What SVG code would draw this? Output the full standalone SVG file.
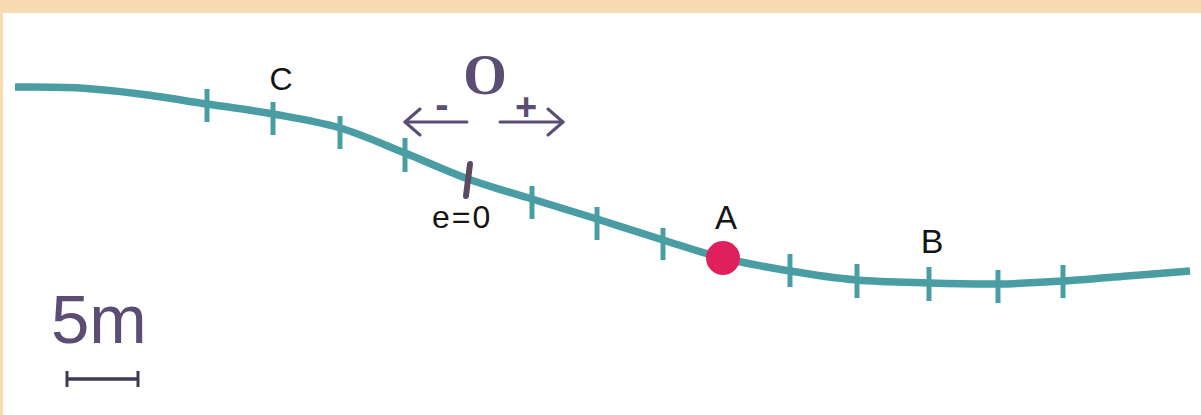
<svg xmlns="http://www.w3.org/2000/svg" width="1201" height="415" viewBox="0 0 1201 415">
<style>
.track{fill:none;stroke:#4a9ea3;stroke-width:7.5;stroke-linecap:butt;stroke-linejoin:round}
.tick{stroke:#4a9ea3;stroke-width:5;stroke-linecap:butt}
.hand{font-family:"Liberation Sans",Arial,sans-serif;fill:#151515}
.purple{fill:#5c4d74}
.arr{stroke:#5c4d74;stroke-width:3;fill:none;stroke-linecap:round}
</style>
<defs>
<marker id="chev" viewBox="0 0 20 30" refX="18" refY="15" markerWidth="20" markerHeight="30" markerUnits="userSpaceOnUse" orient="auto">
<path d="M3,2 L18,15 L3,28" fill="none" stroke="#5c4d74" stroke-width="3" stroke-linecap="round" stroke-linejoin="round"/>
</marker>
</defs>
<rect x="0" y="0" width="1201" height="415" fill="#ffffff"/>
<rect x="0" y="0" width="1201" height="13" fill="#f8dbb0"/>
<rect x="0" y="0" width="3" height="415" fill="#f8dbb0"/>

<g id="track">
<path class="track" d="M15,87 C25.8,87.2 59.2,86.8 80,88 C100.8,89.2 118.8,91.3 140,94 C161.2,96.7 184.8,100.7 207,104 C229.2,107.3 250.8,110 273,114 C295.2,118 318,121.5 340,128 C362,134.5 383.7,144.5 405,153 C426.3,161.5 446.8,171.3 468,179 C489.2,186.7 510.5,192.3 532,199 C553.5,205.7 575.2,212.2 597,219 C618.8,225.8 642,233.5 663,240 C684,246.5 701.8,252.8 723,258 C744.2,263.2 767.7,267.3 790,271 C812.3,274.7 833.8,278 857,280 C880.2,282 905.5,282.3 929,283 C952.5,283.7 975.7,284.3 998,284 C1020.3,283.7 1041.5,282.3 1063,281 C1084.5,279.7 1105.8,277.7 1127,276 C1148.2,274.3 1179.5,271.8 1190,271"/>
<g id="ticks">
<line class="tick" x1="207" y1="89" x2="207" y2="122"/>
<line class="tick" x1="273" y1="102" x2="273" y2="135"/>
<line class="tick" x1="340" y1="116" x2="340" y2="149"/>
<line class="tick" x1="405" y1="138" x2="405" y2="172"/>
<line class="tick" x1="532" y1="186" x2="532" y2="219"/>
<line class="tick" x1="597" y1="207" x2="597" y2="240"/>
<line class="tick" x1="663" y1="228" x2="663" y2="260"/>
<line class="tick" x1="790" y1="254" x2="790" y2="287"/>
<line class="tick" x1="857" y1="264" x2="857" y2="298"/>
<line class="tick" x1="929" y1="267" x2="929" y2="301"/>
<line class="tick" x1="998" y1="270" x2="998" y2="303"/>
<line class="tick" x1="1063" y1="265" x2="1063" y2="298"/>
</g>
</g>

<g id="origin-mark">
<line x1="470" y1="164" x2="466" y2="196" stroke="#5a4a64" stroke-width="6" stroke-linecap="round"/>
<text class="hand" x="432" y="228" font-size="32" letter-spacing="2">e=0</text>
</g>

<g id="point-A">
<circle cx="723" cy="258" r="17" fill="#e0205c"/>
<text class="hand" x="726" y="229" font-size="33" text-anchor="middle">A</text>
</g>

<g id="point-B">
<text class="hand" x="932" y="253" font-size="34" text-anchor="middle">B</text>
</g>

<g id="point-C">
<text class="hand" x="281" y="90" font-size="32" text-anchor="middle">C</text>
</g>

<g id="origin-label">
<text x="485" y="94" font-family="'Liberation Serif','Times New Roman',serif" font-weight="bold" font-size="56" text-anchor="middle" class="purple">O</text>
<text x="442" y="118" font-family="'Liberation Sans',Arial,sans-serif" font-weight="bold" font-size="40" text-anchor="middle" class="purple">-</text>
<text x="526" y="120" font-family="'Liberation Sans',Arial,sans-serif" font-weight="bold" font-size="38" text-anchor="middle" class="purple">+</text>
</g>

<g id="connectors">
<line class="arr" x1="467" y1="122" x2="405" y2="122" marker-end="url(#chev)"/>
<line class="arr" x1="500" y1="122" x2="563" y2="122" marker-end="url(#chev)"/>
</g>

<g id="scale">
<text x="51" y="343" font-family="'Liberation Sans',Arial,sans-serif" font-size="69" class="purple">5m</text>
<line x1="67" y1="379" x2="138" y2="379" stroke="#3d3a52" stroke-width="3.5"/>
<line x1="67" y1="371" x2="67" y2="387" stroke="#3d3a52" stroke-width="3"/>
<line x1="138" y1="371" x2="138" y2="387" stroke="#3d3a52" stroke-width="3"/>
</g>
</svg>
